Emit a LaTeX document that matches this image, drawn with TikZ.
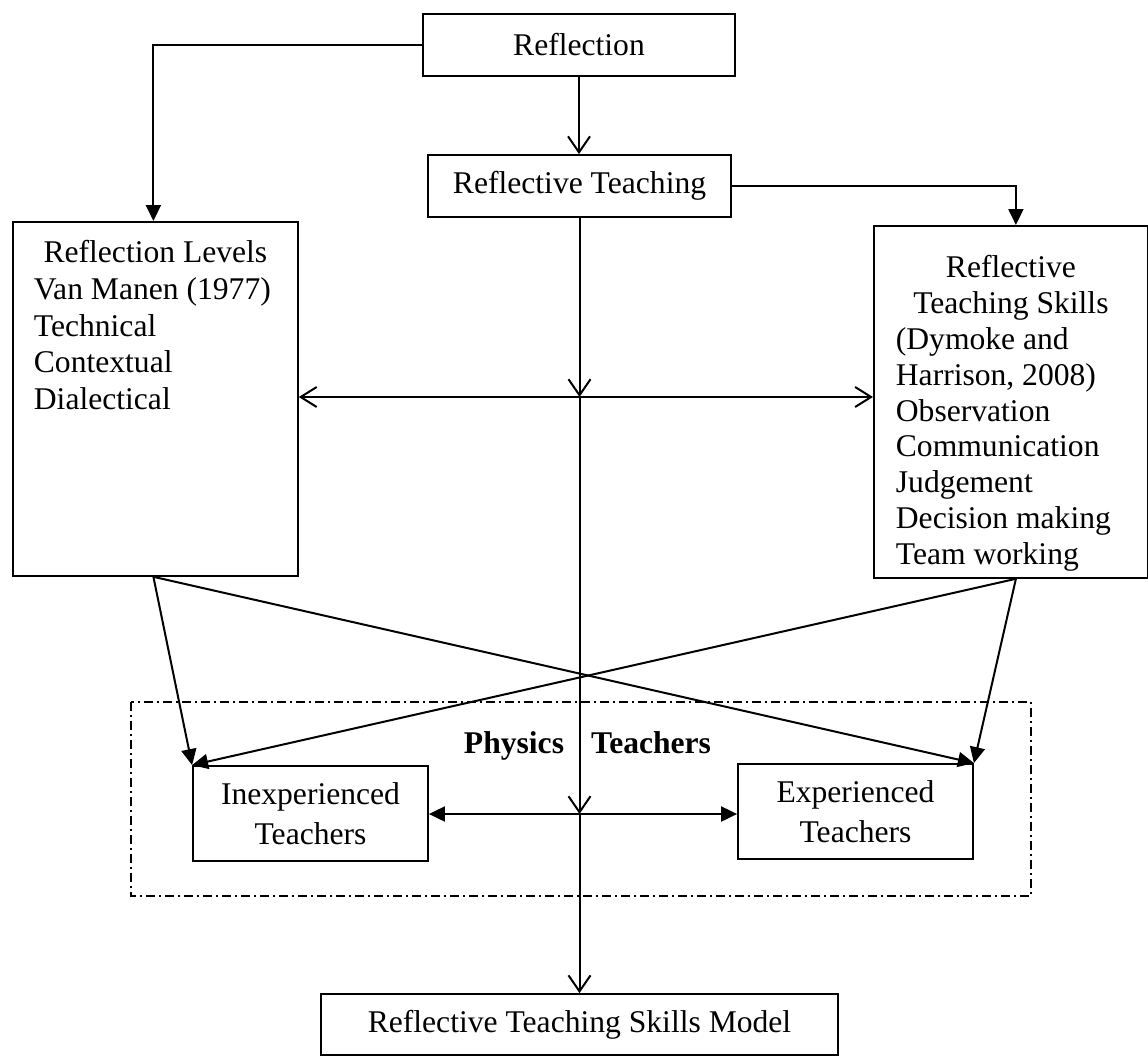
\documentclass[tikz,border=0pt]{standalone}
\usepackage{fontspec}
\setmainfont{Liberation Serif}
\usetikzlibrary{arrows.meta,calc}
\newcommand{\bigfont}{\fontsize{31.6}{36.6}\selectfont}

\begin{document}
\begin{tikzpicture}[x=1pt,y=-1pt,
    box/.style={draw, line width=1.8pt, inner sep=0pt, align=center, font=\bigfont},
    solidarrow/.style={line width=2pt, -{Triangle[length=16pt,width=15pt]}},
    solidboth/.style={line width=2pt, {Triangle[length=16pt,width=15pt]}-{Triangle[length=16pt,width=15pt]}},
    openarrow/.style={line width=2pt, -{Straight Barb[length=16pt,width=22pt]}},
    openboth/.style={line width=2pt, {Straight Barb[length=16pt,width=20pt]}-{Straight Barb[length=16pt,width=20pt]}}]
    \useasboundingbox (0,0) rectangle (1148,1057);
    % boxes
    \node[box, minimum width=312pt, minimum height=62pt] (refl) at (579,45) {Reflection};
    \node[box, minimum width=303pt, minimum height=62pt] (rt) at (579.5,186) {Reflective Teaching};
    \node[box, anchor=north west] (lvl) at (12,221) {\parbox[c][354pt][t]{285pt}{\centering\rule{0pt}{41pt}Reflection Levels\par
        \raggedright\leftskip=21pt Van Manen (1977)\\Technical\\Contextual\\Dialectical}};
    \node[box, anchor=north west] (skills) at (873,225) {\parbox[c][352pt][t]{274pt}{\fontsize{31.6}{35.8}\selectfont
        \centering\rule{0pt}{52pt}Reflective\\Teaching Skills\par
        \raggedright\leftskip=22pt (Dymoke and\\Harrison, 2008)\\Observation\\Communication\\Judgement\\Decision making\\Team working}};
    \node[box, minimum width=235pt, minimum height=95pt, font=\fontsize{31.6}{40.5}\selectfont] (inexp) at (310.5,813.5) {Inexperienced\\Teachers};
    \node[box, minimum width=235pt, minimum height=95pt, font=\fontsize{31.6}{40.5}\selectfont] (exp) at (855.5,811.5) {Experienced\\Teachers};
    \node[box, minimum width=517pt, minimum height=61pt] (model) at (579.5,1024.5) {Reflective Teaching Skills Model};
    % physics teachers group
    \draw[line width=1.3pt, dash pattern=on 9pt off 4pt on 2pt off 4pt] (131,702) rectangle (1031,896);
    \node[font=\bigfont\bfseries, anchor=base] (phys) at (587.5,753) {Physics\hspace{27pt}Teachers};
    % arrows
    \coordinate (c1) at (579.5,397);
    \coordinate (c2) at (579.5,814);
    \draw[solidarrow] (refl.west) -| ([xshift=-2pt]lvl.north);
    \draw[openarrow] (refl.south) -- (refl.south |- rt.north);
    \draw[solidarrow] (rt.east) -| ([xshift=5pt]skills.north);
    \draw[openarrow] (rt.south) -- (c1);
    \draw[openarrow] (c1) -- (c2);
    \draw[openarrow] (c2) -- (model.north);
    \draw[openboth] (c1 -| lvl.east) -- (c1 -| skills.west);
    \draw[solidboth] (c2 -| inexp.east) -- (c2 -| exp.west);
    \draw[solidarrow] ([xshift=-2pt]lvl.south) -- (inexp.north west);
    \draw[solidarrow] ([xshift=-2pt]lvl.south) -- (exp.north east);
    \draw[solidarrow] ([xshift=5pt]skills.south) -- (inexp.north west);
    \draw[solidarrow] ([xshift=5pt]skills.south) -- (exp.north east);
\end{tikzpicture}
\end{document}
